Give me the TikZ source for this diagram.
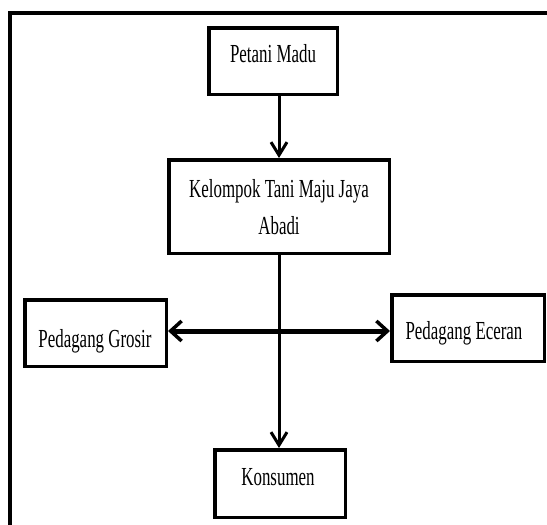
\documentclass[tikz,border=0pt]{standalone}
\usepackage{fontspec}
\setmainfont[FakeStretch=0.65]{Liberation Serif}
\usetikzlibrary{arrows.meta}
\begin{document}
\begin{tikzpicture}[x=1pt,y=-1pt,
  box/.style={draw, line width=3.5pt, inner sep=0pt},
  lbl/.style={anchor=base, inner sep=0pt, font=\fontsize{26}{30}\selectfont},
  varr/.style={line width=3pt, -{Straight Barb[length=13pt,width=16pt,line width=3pt]}},
  harr/.style={line width=5pt, {Straight Barb[length=11pt,width=20pt,line width=3.5pt]}-{Straight Barb[length=11pt,width=20pt,line width=3.5pt]}},
  frame/.style={line width=3.5pt}]
\useasboundingbox (0,0) rectangle (547,525);
% outer frame
\coordinate (fbl) at (10,530);
\coordinate (ftl) at (10,13);
\coordinate (ftr) at (552,13);
\draw[frame] (fbl) -- (ftl) -- (ftr);
% boxes
\node[box, minimum width=128.5pt, minimum height=66.5pt] (p) at (273,61) {};
\node[box, minimum width=220.5pt, minimum height=93.5pt] (k) at (279,206.5) {};
\node[box, minimum width=141.5pt, minimum height=66.5pt] (g) at (95.5,333) {};
\node[box, minimum width=152.5pt, minimum height=66.5pt] (e) at (468,328) {};
\node[box, minimum width=130.5pt, minimum height=67.5pt] (c) at (280,483.5) {};
% texts
\node[lbl] (pt) at (273,62) {Petani Madu};
\node[lbl] (kt1) at (279,197) {Kelompok Tani Maju Jaya};
\node[lbl] (kt2) at (279,234) {Abadi};
\node[lbl] (gt) at (95,347) {Pedagang Grosir};
\node[lbl] (et) at (464,339) {Pedagang Eceran};
\node[lbl] (ct) at (278,485) {Konsumen};
% connectors
\coordinate (h) at (0,331);
\draw[varr] (p.south -| k.north) -- (k.north);
\draw[varr] (k.south) -- (k.south |- c.north);
\draw[harr] (g.east |- h) -- (e.west |- h);
\end{tikzpicture}
\end{document}
